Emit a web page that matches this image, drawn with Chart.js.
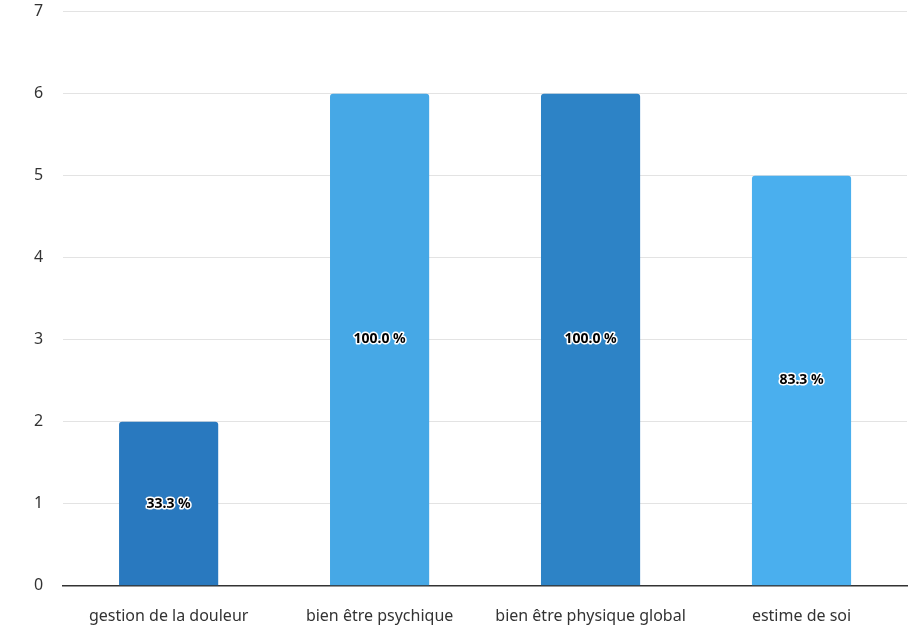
<!DOCTYPE html>
<html><head><meta charset="utf-8">
<script src="https://cdn.jsdelivr.net/npm/chart.js@4/dist/chart.umd.min.js"></script>
<style>html,body{margin:0;padding:0;background:#fff}#wrap{width:917px;height:627px}</style>
</head><body><div id="wrap"><canvas id="c" width="917" height="627"></canvas></div>
<script>
const categories = ["gestion de la douleur", "bien être psychique", "bien être physique global", "estime de soi"];
const counts = [2, 6, 6, 5];
const percentLabels = ["33.3 %", "100.0 %", "100.0 %", "83.3 %"];
const barColors = ["#2979BF", "#46A8E6", "#2D83C6", "#4AAFEE"];
const yTicks = [0, 1, 2, 3, 4, 5, 6, 7];

const labelPlugin = {
  id: 'centerLabels',
  afterDatasetsDraw(chart) {
    const ctx = chart.ctx;
    const meta = chart.getDatasetMeta(0);
    ctx.save();
    ctx.font = 'bold 14px "Noto Sans"';
    ctx.textAlign = 'center';
    ctx.textBaseline = 'middle';
    ctx.lineJoin = 'round';
    meta.data.forEach((bar, i) => {
      const y = (bar.y + bar.base) / 2;
      ctx.lineWidth = 3;
      ctx.strokeStyle = '#fff';
      ctx.strokeText(percentLabels[i], bar.x, y);
      ctx.fillStyle = '#000';
      ctx.fillText(percentLabels[i], bar.x, y);
    });
    ctx.restore();
  }
};

new Chart(document.getElementById('c'), {
  type: 'bar',
  data: {
    labels: categories,
    datasets: [{
      data: counts,
      backgroundColor: barColors,
      borderRadius: {topLeft: 3, topRight: 3},
      borderSkipped: 'bottom',
      categoryPercentage: 0.94,
      barPercentage: 0.5
    }]
  },
  options: {
    responsive: false,
    animation: false,
    layout: {padding: {top: 1, right: 10, left: 32, bottom: -12}},
    plugins: {legend: {display: false}, tooltip: {enabled: false}},
    scales: {
      x: {
        grid: {display: false},
        border: {display: true, color: '#333', width: 1.5},
        ticks: {color: '#333', font: {family: '"Noto Sans"', size: 16}, padding: 13}
      },
      y: {
        min: 0, max: 7,
        afterBuildTicks(axis) { axis.ticks = yTicks.map(v => ({value: v})); },
        grid: {color: '#e3e3e3', drawTicks: true, tickLength: 18, tickColor: 'rgba(0,0,0,0)'},
        border: {display: false},
        ticks: {color: '#333', font: {family: '"Noto Sans"', size: 16}, padding: 2}
      }
    }
  },
  plugins: [labelPlugin]
});
</script>
</body></html>
